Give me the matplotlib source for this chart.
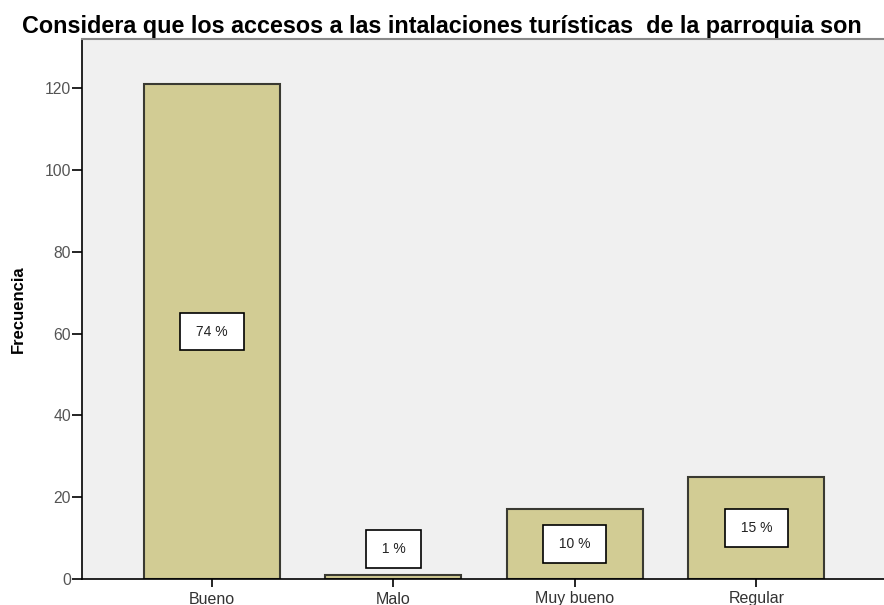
import numpy as np
import matplotlib
matplotlib.use("Agg")
import matplotlib.pyplot as plt

# datos
categorias = ["Bueno", "Malo", "Muy bueno", "Regular"]
frecuencias = [121, 1, 17, 25]
porcentajes = ["74 %", "1 %", "10 %", "15 %"]
y_ticks = [0, 20, 40, 60, 80, 100, 120]

titulo = "Considera que los accesos a las intalaciones turísticas  de la parroquia son"

plt.rcParams['font.family'] = ['Liberation Sans', 'DejaVu Sans']

fig = plt.figure(figsize=(8.84, 6.05), dpi=100)
ax = fig.add_axes([82/884, 26/605, 1 - 82/884, (579-39)/605])
ax.set_facecolor("#f0f0f0")

x = np.arange(len(categorias))
ax.bar(x, frecuencias, width=0.75, color="#d2cc94", edgecolor="#3a3a32", linewidth=1.5, zorder=2)

# etiquetas de porcentaje
for xi, v, p in zip(x, frecuencias, porcentajes):
    ax.text(xi, max(v/2, 7.4), " " + p + " ", ha="center", va="center", fontsize=10, color="#222222",
            bbox=dict(boxstyle="square,pad=0.85", fc="white", ec="black", lw=1.2), zorder=3)

ax.set_xlim(-0.716, 3.703)
ax.set_ylim(0, 132)
ax.set_yticks(y_ticks)
ax.set_xticks(x)
ax.set_xticklabels(categorias, fontsize=11.5, color="#333333")
ax.tick_params(axis="y", labelsize=11.3, labelcolor="#555555", length=7, width=1.2, direction="out", pad=1)
ax.tick_params(axis="x", length=6, width=1.2, direction="out", pad=3)

ax.spines["left"].set_color("black")
ax.spines["left"].set_linewidth(1.2)
ax.spines["bottom"].set_color("black")
ax.spines["bottom"].set_linewidth(1.2)
ax.spines["top"].set_color("#888888")
ax.spines["top"].set_linewidth(1.5)
ax.spines["right"].set_visible(False)

ax.set_ylabel("Frecuencia", fontsize=12, fontweight="bold", labelpad=13)

fig.text(0.5, 1 - 27/605, titulo, ha="center", va="center", fontsize=16.8, fontweight="bold")

fig.savefig("out.png", dpi=100)
